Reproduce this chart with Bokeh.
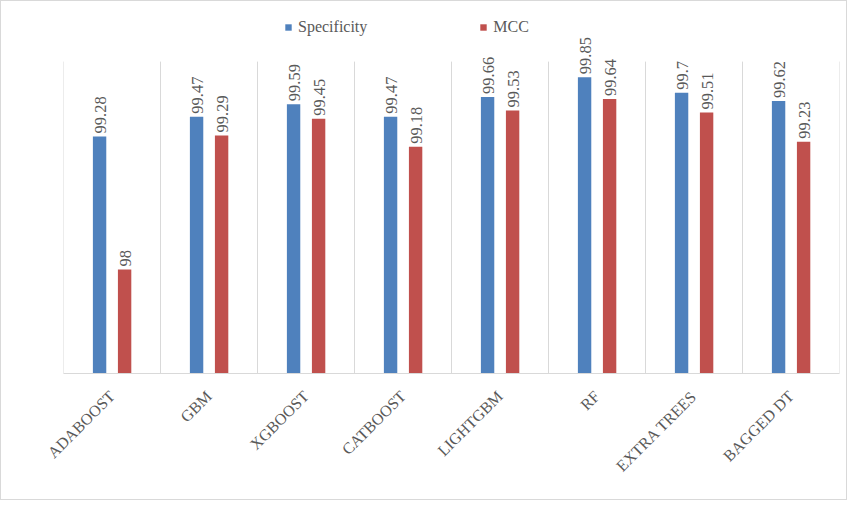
from math import pi

from bokeh.core.properties import value
from bokeh.embed import file_html
from bokeh.models import ColumnDataSource, FactorRange, Legend, LegendItem
from bokeh.plotting import figure
from bokeh.resources import INLINE
from bokeh.transform import dodge

models = ['ADABOOST', 'GBM', 'XGBOOST', 'CATBOOST', 'LIGHTGBM', 'RF', 'EXTRA TREES', 'BAGGED DT']
specificity = [99.28, 99.47, 99.59, 99.47, 99.66, 99.85, 99.7, 99.62]
mcc = [98, 99.29, 99.45, 99.18, 99.53, 99.64, 99.51, 99.23]
y_min, y_max = 97, 100
y_top = 100.53  # headroom so the labels and legend are not clipped

BLUE = '#4F81BD'
RED = '#C0504D'
GREY = '#595959'
LINE = '#d9d9d9'
SERIF = 'Liberation Serif'

source = ColumnDataSource(dict(
    model=models,
    spec=specificity,
    mcc=mcc,
    spec_lbl=['%g' % v for v in specificity],
    mcc_lbl=['%g' % v for v in mcc],
))

p = figure(x_range=FactorRange(*models), y_range=(y_min, y_top),
           width=847, height=500, output_backend='svg', toolbar_location=None,
           min_border_left=62, min_border_right=9, min_border_top=5, min_border_bottom=128)
p.styles = {'border': '1px solid #d9d9d9', 'box-sizing': 'border-box'}
p.outline_line_color = None
p.xgrid.visible = False
p.ygrid.visible = False
p.yaxis.visible = False

# separators between the categories, from the baseline to the top of the value axis
p.segment(x0=dodge('model', -0.5, range=p.x_range), x1=dodge('model', -0.5, range=p.x_range),
          y0=y_min, y1=y_max, source=source, line_color=LINE, line_width=1)
last = ColumnDataSource(dict(model=models[-1:]))
p.segment(x0=dodge('model', 0.5, range=p.x_range), x1=dodge('model', 0.5, range=p.x_range),
          y0=y_min, y1=y_max, source=last, line_color=LINE, line_width=1)

bar_w = 0.138
off_spec, off_mcc = -0.128, 0.13
r_spec = p.vbar(x=dodge('model', off_spec, range=p.x_range), top='spec', bottom=y_min, width=bar_w,
                source=source, fill_color=BLUE, line_color=None)
r_mcc = p.vbar(x=dodge('model', off_mcc, range=p.x_range), top='mcc', bottom=y_min, width=bar_w,
               source=source, fill_color=RED, line_color=None)

for off, col, lbl in [(off_spec, 'spec', 'spec_lbl'), (off_mcc, 'mcc', 'mcc_lbl')]:
    p.text(x=dodge('model', off, range=p.x_range), y=col, text=lbl, source=source,
           angle=pi / 2, x_offset=1, y_offset=-3, text_align='left', text_baseline='middle',
           text_font=value(SERIF), text_font_size='16.5px', text_color=GREY)

ax = p.xaxis[0]
ax.axis_line_color = LINE
ax.major_tick_line_color = None
ax.minor_tick_line_color = None
ax.major_label_orientation = pi / 4
ax.major_label_text_font = SERIF
ax.major_label_text_font_size = '16px'
ax.major_label_text_color = GREY
ax.major_label_standoff = 14

legend = Legend(items=[LegendItem(label='Specificity', renderers=[r_spec]),
                       LegendItem(label='MCC', renderers=[r_mcc])],
                location=(221, 337), orientation='horizontal', spacing=112,
                padding=0, margin=0, glyph_width=8, glyph_height=8, label_standoff=6,
                label_text_font=SERIF, label_text_font_size='16px', label_text_color=GREY,
                border_line_color=None, background_fill_alpha=0)
p.add_layout(legend, 'center')

open('out.html', 'w').write(file_html(p, INLINE))
